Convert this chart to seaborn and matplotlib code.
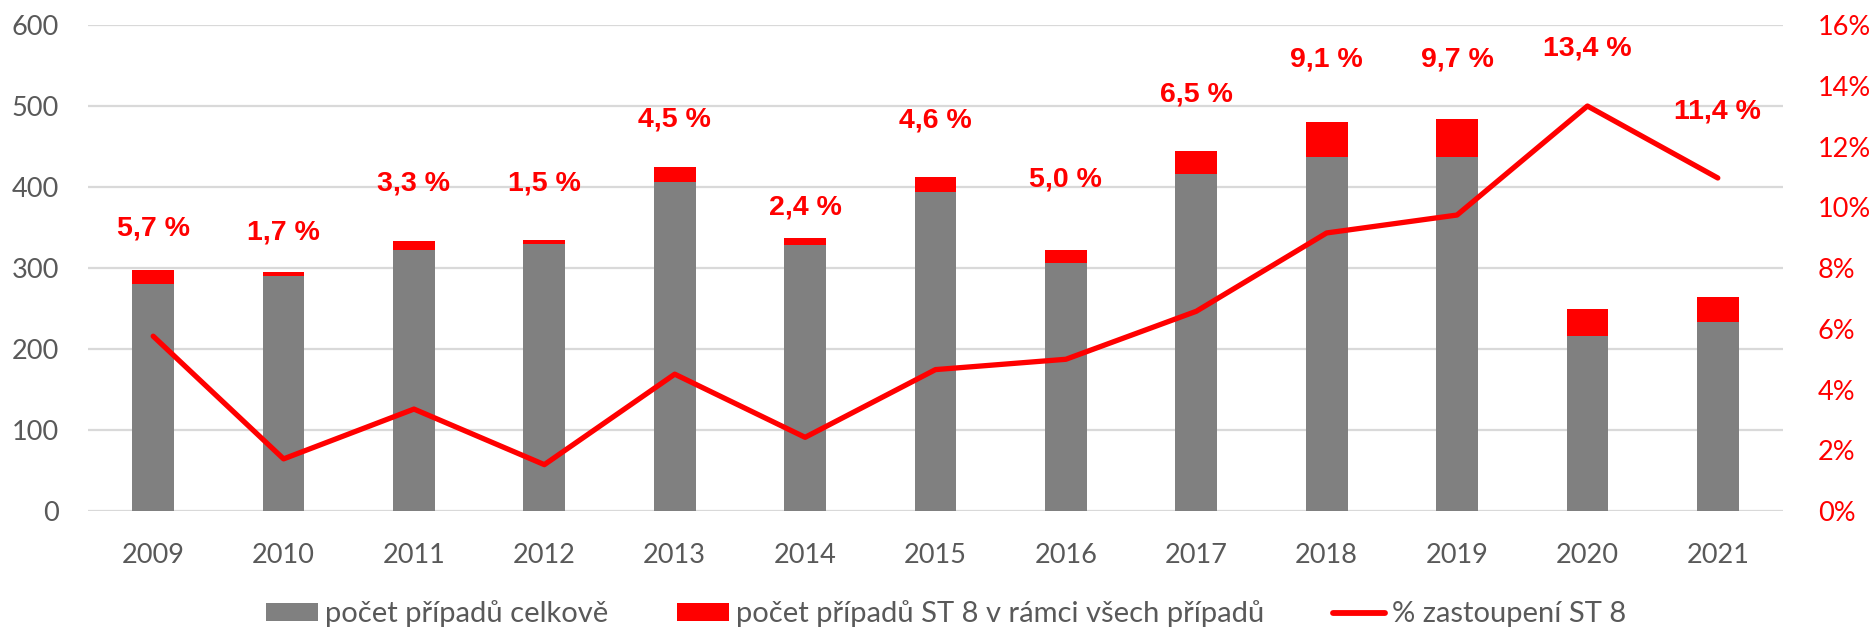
import numpy as np
import pandas as pd
import matplotlib
matplotlib.use("Agg")
import matplotlib.pyplot as plt
import seaborn as sns
from matplotlib.patches import Patch
from matplotlib.lines import Line2D

# ── data ──
years      = ["2009", "2010", "2011", "2012", "2013", "2014", "2015",
              "2016", "2017", "2018", "2019", "2020", "2021"]
total      = [281, 290, 323, 330, 406, 329, 394, 306, 416, 437, 437, 216, 234]
st8        = [17, 5, 11, 5, 19, 8, 19, 16, 29, 44, 47, 33, 30]
pct_line   = [5.76, 1.72, 3.36, 1.53, 4.51, 2.43, 4.66, 5.0, 6.58, 9.16, 9.75, 13.34, 10.97]
pct_labels = ["5,7 %", "1,7 %", "3,3 %", "1,5 %", "4,5 %", "2,4 %", "4,6 %",
              "5,0 %", "6,5 %", "9,1 %", "9,7 %", "13,4 %", "11,4 %"]
label_y    = [349, 344, 404, 404, 484, 375, 482, 410, 514, 558, 558, 571, 494]

df = pd.DataFrame({"year": years, "total": total, "st8": st8})
df["stack"] = df["total"] + df["st8"]

GREY = "#808080"
RED = "#FF0000"
TXT = "#595959"
BASE = ["Lato", "DejaVu Sans"]
BOLD = ["Liberation Sans", "DejaVu Sans"]

sns.set_style("white")
plt.rcParams["font.family"] = BASE

fig = plt.figure(figsize=(18.73, 6.31), dpi=100)
ax = fig.add_axes([88 / 1873, 0.19, (1783 - 88) / 1873, 0.77])

# stacked bars: red total first, grey base drawn over it
sns.barplot(data=df, x="year", y="stack", color=RED, width=0.32,
            saturation=1, linewidth=0, ax=ax, zorder=2)
sns.barplot(data=df, x="year", y="total", color=GREY, width=0.32,
            saturation=1, linewidth=0, ax=ax, zorder=3)

ax.set_ylim(0, 600)
ax.set_xlim(-0.5, len(years) - 0.5)
ax.set_yticks(range(0, 601, 100))
ax.grid(axis="y", color="#D9D9D9", linewidth=1.6, zorder=0)
ax.set_axisbelow(True)
for s in ax.spines.values():
    s.set_visible(False)
ax.set_xlabel("")
ax.set_ylabel("")
ax.tick_params(axis="both", length=0, labelsize=19.5, colors=TXT)
ax.tick_params(axis="x", pad=23)
ax.tick_params(axis="y", pad=21)

# percentage labels
for i, (lab, yy) in enumerate(zip(pct_labels, label_y)):
    ax.text(i, yy, lab, ha="center", va="center", color=RED,
            fontsize=20.5, fontweight="bold", family=BOLD, zorder=5)

# line on right axis
ax2 = ax.twinx()
sns.lineplot(x=np.arange(len(years)), y=pct_line, color=RED,
             linewidth=3.8, ax=ax2, zorder=4)
ax2.set_ylim(0, 16)
ax2.set_xlim(-0.5, len(years) - 0.5)
ax2.set_yticks(range(0, 17, 2))
ax2.set_yticklabels([f"{v}%" for v in range(0, 17, 2)])
ax2.tick_params(axis="y", length=0, labelsize=19.5, colors=RED, pad=25)
for s in ax2.spines.values():
    s.set_visible(False)
ax2.grid(False)

handles = [Patch(facecolor=GREY, edgecolor="none"),
           Patch(facecolor=RED, edgecolor="none"),
           Line2D([0], [0], color=RED, linewidth=4.2, solid_capstyle="round")]
labels = ["počet případů celkově", "počet případů ST 8 v rámci všech případů",
          "% zastoupení ST 8"]
fig.legend(handles, labels, loc="center", ncol=3, frameon=False,
           bbox_to_anchor=(0.505, 0.027), fontsize=21, labelcolor=TXT,
           handlelength=1.78, handleheight=0.55, handletextpad=0.24,
           columnspacing=2.36, borderpad=0, borderaxespad=0)

fig.savefig("out.png", dpi=100)
